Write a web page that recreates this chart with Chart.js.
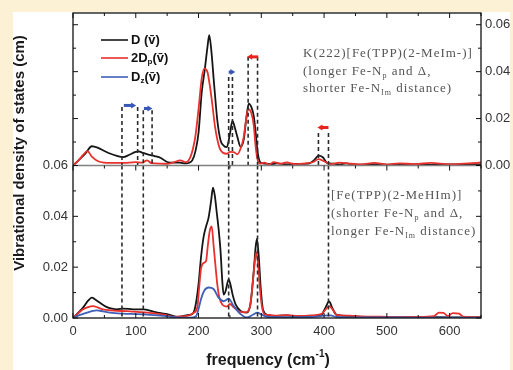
<!DOCTYPE html>
<html>
<head>
<meta charset="utf-8">
<script src="https://cdn.jsdelivr.net/npm/chart.js@4.4.0/dist/chart.umd.min.js"></script>
<style>
  html, body { margin: 0; padding: 0; background: #fcf1d4; overflow: hidden; }
  #wrap { position: relative; width: 513px; height: 370px; overflow: hidden; }
  #paper { position: absolute; left: 13px; top: 12px; width: 497px; height: 358px; background: #fff; }
  #chart { position: absolute; left: 0; top: 0; }
</style>
</head>
<body>
<div id="wrap">
  <div id="paper"></div>
  <canvas id="chart" width="530" height="370"></canvas>
</div>
<script>
// ---- data ----
// upper panel: K(222)[Fe(TPP)(2-MeIm-)]
const upDFreq = [0,10,20,30,40,50,60,70,80,90,100,105,110,120,130,140,150,160,170,180,185,190,195,200,205,210,214,217,220,225,230,235,240,245,250,254,258,262,267,272,276,280,284,288,291,294,298,305,315,325,340,360,375,385,391,398,405,415,425,435,450,470,500,530,560,590,620,650];
const upD     = [0,0.0025,0.0052,0.0082,0.0075,0.0062,0.005,0.0041,0.0036,0.0046,0.0058,0.006,0.0055,0.0046,0.004,0.0032,0.0015,0.0012,0.0012,0.0009,0.0012,0.0022,0.006,0.014,0.031,0.041,0.05,0.0556,0.05,0.034,0.019,0.0108,0.0085,0.0078,0.0135,0.019,0.016,0.012,0.008,0.011,0.02,0.0264,0.025,0.021,0.014,0.006,0.0015,0.0008,0.0006,0.0009,0.0005,0.0007,0.0008,0.0025,0.0042,0.0035,0.001,0.0008,0.0004,0.0009,0.0003,0.0005,0.0004,0.0006,0.0003,0.0005,0.0004,0.0005];
const upPFreq = [0,10,16,23,30,40,50,60,80,100,110,118,125,140,150,160,171,180,187,191,195,200,205,209,214,218,222,226,230,235,245,250,256,262,268,272,276,279,284,288,291,294,298,305,312,320,330,340,355,370,383,391,400,410,425,440,460,480,500,520,545,570,600,630,650];
const upP     = [0,0.0025,0.0045,0.0061,0.0038,0.0018,0.0012,0.0011,0.0011,0.0014,0.0012,0.0022,0.001,0.0008,0.0007,0.0013,0.0022,0.0014,0.0036,0.007,0.0125,0.024,0.037,0.0413,0.04,0.034,0.026,0.017,0.011,0.0066,0.005,0.0058,0.0057,0.0048,0.008,0.0121,0.02,0.024,0.0225,0.017,0.008,0.0025,0.0008,0.0012,0.0004,0.0014,0.0008,0.0013,0.0006,0.0009,0.0015,0.0027,0.0018,0.0006,0.0012,0.0008,0.0005,0.0011,0.0004,0.0009,0.0006,0.0011,0.0005,0.0009,0.0013];

// lower panel: [Fe(TPP)(2-MeHIm)]
const loDFreq = [0,8,16,24,30,36,43,54,62,70,80,96,112,128,140,150,166,176,185,192,196,200,204,208,212,216,220,223,226,229,232,235,238,240,243,248,251,254,259,267,277,283,288,291,293,296,299,303,310,320,340,360,380,395,402,408,413,420,440,460,490,520,550,580,620,650];
const loD     = [0,0.002,0.0041,0.0068,0.008,0.0072,0.006,0.0043,0.0037,0.0034,0.0037,0.0034,0.0034,0.0025,0.0019,0.0015,0.0004,0.0008,0.0012,0.0021,0.006,0.0133,0.024,0.0318,0.036,0.0395,0.046,0.0513,0.048,0.0415,0.035,0.0265,0.014,0.0092,0.0105,0.0152,0.013,0.0095,0.0054,0.0028,0.0021,0.006,0.0186,0.028,0.0311,0.024,0.012,0.003,0.0012,0.0008,0.001,0.0006,0.0008,0.001,0.004,0.0065,0.004,0.0012,0.0008,0.0004,0.0003,0.0003,0.0002,0.0003,0.0002,0.0003];
const loPFreq = [0,8,16,24,32,40,48,60,70,85,96,110,118,130,139,150,160,170,182,192,198,201,204,208,212,215,218,221,224,227,230,233,238,245,250,256,265,275,282,286,290,292,295,298,301,305,312,325,340,360,380,395,402,408,414,420,440,460,490,520,550,575,583,590,597,605,615,622,650];
const loP     = [0,0.0018,0.0034,0.0043,0.0047,0.0041,0.0034,0.003,0.0028,0.0027,0.0025,0.0023,0.0021,0.0018,0.0015,0.001,0.0004,0.0006,0.0008,0.002,0.0041,0.012,0.0195,0.0216,0.0225,0.029,0.0345,0.036,0.0285,0.0205,0.013,0.0082,0.0052,0.0045,0.0055,0.0042,0.0025,0.0022,0.0045,0.013,0.023,0.0258,0.021,0.011,0.0045,0.0015,0.0012,0.0009,0.0011,0.0008,0.001,0.0015,0.0032,0.0047,0.0032,0.0012,0.0009,0.0006,0.0005,0.0004,0.0004,0.0007,0.0021,0.002,0.0008,0.0019,0.0017,0.0005,0.0003];
const loZFreq = [0,10,22,30,38,48,59,80,102,123,144,166,187,196,200,204,209,216,224,232,240,248,256,267,277,286,294,300,310,340,380,400,410,420,460,520,580,650];
const loZ     = [0,0.0011,0.0021,0.0027,0.003,0.0026,0.0021,0.0017,0.0015,0.0012,0.0008,0.0002,0.0001,0.0007,0.0035,0.0075,0.0107,0.012,0.0114,0.008,0.0066,0.0076,0.0047,0.0015,0.0002,0.0012,0.0021,0.0014,0.0004,0.0003,0.0004,0.0009,0.001,0.0004,0.0002,0.0002,0.0001,0.0001];

// dashed guide lines (frequency, top value in upper panel)
const upDashFreq = [78,103,112,126,248,254,279,294,391,407];
const upDashTop  = [0.0249,0.0249,0.0236,0.0236,0.0377,0.0377,0.0463,0.0463,0.0138,0.0138];
const loDashFreq = [78,112,248,294,407];

// arrows over the guide pairs (upper panel)
const arrowFrom  = [81,113,248,295,407];
const arrowTo    = [99,125,257,279,391];
const arrowLevel = [0.0256,0.0243,0.0398,0.0463,0.0162];
const arrowColor = ['#3858b8','#3858b8','#3858b8','#e8231f','#e8231f'];

// ticks
const xTickValues = [0,50,100,150,200,250,300,350,400,450,500,550,600,650];
const xLabelValues = [0,100,200,300,400,500,600];
const yMinorValues = [0,0.01,0.02,0.03,0.04,0.05,0.06];
const yLabelValues = [0,0.02,0.04,0.06];

const BLACK = '#151515', RED = '#e8302c', BLUE = '#3f5fb8';

function pts(xs, ys) { return xs.map((x, i) => ({x: x, y: ys[i]})); }

const datasets = [];
upDashFreq.forEach((f, i) => {
  datasets.push({data: [{x: f, y: upDashTop[i]}, {x: f, y: 0}], yAxisID: 'yU',
    borderColor: '#2a2a2a', borderWidth: 1.6, borderDash: [4, 3], pointRadius: 0});
});
loDashFreq.forEach(f => {
  datasets.push({data: [{x: f, y: 0.06}, {x: f, y: 0}], yAxisID: 'yL',
    borderColor: '#2a2a2a', borderWidth: 1.6, borderDash: [4, 3], pointRadius: 0});
});
const curve = (xs, ys, color, axis) => ({data: pts(xs, ys), yAxisID: axis, borderColor: color,
  borderWidth: 1.8, pointRadius: 0, cubicInterpolationMode: 'monotone'});
datasets.push(curve(loZFreq, loZ, BLUE, 'yL'));
datasets.push(curve(loPFreq, loP, RED, 'yL'));
datasets.push(curve(loDFreq, loD, BLACK, 'yL'));
datasets.push(curve(upPFreq, upP, RED, 'yU'));
datasets.push(curve(upDFreq, upD, BLACK, 'yU'));

const tickFont = {family: 'Liberation Sans, Arial, sans-serif', size: 13};

function yAxis(pos, stack, max, labels) {
  return {
    type: 'linear', position: pos, stack: stack, stackWeight: 1, min: 0, max: max,
    grid: {display: false, drawTicks: false}, border: {display: false},
    afterBuildTicks: s => { s.ticks = yLabelValues.map(v => ({value: v})); },
    afterFit: s => { s.width = 30; },
    ticks: {display: labels, padding: pos === 'left' ? 5 : 4, color: '#333', font: tickFont,
      autoSkip: false, callback: v => v.toFixed(2)}
  };
}

// rich text: parts = [[text, 'sub'|''], ...]
function rich(ctx, x, y, parts, size, family, weight) {
  let cx = x;
  parts.forEach(p => {
    const sub = p[1] === 'sub';
    const sz = sub ? Math.round(size * 0.6) : size;
    ctx.font = (weight || '') + ' ' + sz + 'px ' + family;
    ctx.fillText(p[0], cx, sub ? y + size * 0.28 : y);
    cx += ctx.measureText(p[0]).width;
  });
  return cx;
}

const decor = {
  id: 'decor',
  afterDatasetsDraw(c) {
    const ctx = c.ctx, a = c.chartArea;
    const xs = c.scales.x, yL = c.scales.yL, yU = c.scales.yU;
    const mid = yL.getPixelForValue(0.06);
    ctx.save();
    // middle divider
    ctx.strokeStyle = '#808080'; ctx.lineWidth = 1.5;
    ctx.beginPath(); ctx.moveTo(a.left, mid); ctx.lineTo(a.right, mid); ctx.stroke();
    // frame
    ctx.strokeStyle = '#111'; ctx.lineWidth = 1.3;
    ctx.strokeRect(a.left, a.top, a.right - a.left, a.bottom - a.top);
    // inward tick marks
    ctx.lineWidth = 1;
    ctx.beginPath();
    xTickValues.forEach(v => {
      const px = xs.getPixelForValue(v), len = v % 100 === 0 ? 5 : 3;
      ctx.moveTo(px, a.bottom); ctx.lineTo(px, a.bottom - len);
      ctx.moveTo(px, a.top); ctx.lineTo(px, a.top + len);
      ctx.moveTo(px, mid); ctx.lineTo(px, mid + len);
    });
    [yL, yU].forEach(sc => {
      yMinorValues.forEach(v => {
        const py = sc.getPixelForValue(v);
        const len = Math.round(v * 100) % 2 === 0 ? 5 : 3;
        ctx.moveTo(a.left, py); ctx.lineTo(a.left + len, py);
        ctx.moveTo(a.right, py); ctx.lineTo(a.right - len, py);
      });
    });
    ctx.stroke();
    // arrows
    arrowFrom.forEach((f, i) => {
      const x1 = xs.getPixelForValue(f), x2 = xs.getPixelForValue(arrowTo[i]);
      const py = yU.getPixelForValue(arrowLevel[i]);
      const dir = x2 > x1 ? 1 : -1;
      ctx.strokeStyle = arrowColor[i]; ctx.fillStyle = arrowColor[i];
      ctx.lineWidth = 3;
      ctx.beginPath(); ctx.moveTo(x1, py); ctx.lineTo(x2 - dir * 3, py); ctx.stroke();
      ctx.beginPath(); ctx.moveTo(x2 + dir, py); ctx.lineTo(x2 - dir * 4, py - 3);
      ctx.lineTo(x2 - dir * 4, py + 3); ctx.closePath(); ctx.fill();
    });
    // legend
    const leg = [
      [BLACK, [['D (v\u0304)', '']]],
      [RED, [['2D', ''], ['p', 'sub'], ['(v\u0304)', '']]],
      [BLUE, [['D', ''], ['z', 'sub'], ['(v\u0304)', '']]]
    ];
    const legY = [40, 58, 77];
    leg.forEach((l, i) => {
      ctx.strokeStyle = l[0]; ctx.lineWidth = 1.6;
      ctx.beginPath(); ctx.moveTo(101, legY[i]); ctx.lineTo(128, legY[i]); ctx.stroke();
      ctx.fillStyle = '#111'; ctx.textBaseline = 'middle'; ctx.textAlign = 'left';
      rich(ctx, 131, legY[i], l[1], 13, 'Liberation Sans, Arial, sans-serif', 'bold');
    });
    // sample annotations
    ctx.fillStyle = '#555';
    ctx.letterSpacing = '1px';
    const serif = 'Liberation Serif, DejaVu Serif, serif';
    rich(ctx, 303, 54, [['K(222)[Fe(TPP)(2-MeIm-)]', '']], 13, serif);
    rich(ctx, 303, 72, [['(longer Fe-N', ''], ['p', 'sub'], [' and \u0394,', '']], 13, serif);
    rich(ctx, 303, 89, [['shorter Fe-N', ''], ['Im', 'sub'], [' distance)', '']], 13, serif);
    rich(ctx, 331, 196, [['[Fe(TPP)(2-MeHIm)]', '']], 13, serif);
    rich(ctx, 331, 214, [['(shorter Fe-N', ''], ['p', 'sub'], [' and \u0394,', '']], 13, serif);
    rich(ctx, 331, 232, [['longer Fe-N', ''], ['Im', 'sub'], [' distance)', '']], 13, serif);
    ctx.letterSpacing = '0px';
    // axis titles
    ctx.fillStyle = '#1a1a1a';
    ctx.font = 'bold 15px Liberation Sans, Arial, sans-serif';
    ctx.save();
    ctx.translate(20, 153); ctx.rotate(-Math.PI / 2);
    ctx.textAlign = 'center'; ctx.textBaseline = 'middle';
    ctx.fillText('Vibrational density of states (cm)', 0, 0);
    ctx.restore();
    ctx.textBaseline = 'alphabetic'; ctx.textAlign = 'left';
    ctx.font = 'bold 16px Liberation Sans, Arial, sans-serif';
    const w1 = ctx.measureText('frequency (cm').width;
    ctx.font = 'bold 10px Liberation Sans, Arial, sans-serif';
    const w2 = ctx.measureText('-1').width;
    ctx.font = 'bold 16px Liberation Sans, Arial, sans-serif';
    const w3 = ctx.measureText(')').width;
    let tx = 268 - (w1 + w2 + w3) / 2;
    ctx.fillText('frequency (cm', tx, 365); tx += w1;
    ctx.font = 'bold 10px Liberation Sans, Arial, sans-serif';
    ctx.fillText('-1', tx, 357); tx += w2;
    ctx.font = 'bold 16px Liberation Sans, Arial, sans-serif';
    ctx.fillText(')', tx, 365);
    ctx.restore();
  }
};

new Chart(document.getElementById('chart'), {
  type: 'line',
  data: {datasets: datasets},
  options: {
    responsive: false,
    animation: false,
    parsing: true,
    layout: {padding: {left: 43, right: 19, top: 13, bottom: 30}},
    plugins: {legend: {display: false}, tooltip: {enabled: false}},
    scales: {
      x: {
        type: 'linear', position: 'bottom', min: 0, max: 650,
        grid: {display: false, drawTicks: false}, border: {display: false},
        afterBuildTicks: s => { s.ticks = xLabelValues.map(v => ({value: v})); },
        afterFit: s => { s.height = 22; },
        ticks: {padding: 6, color: '#333', font: tickFont, maxRotation: 0, autoSkip: false,
          callback: v => String(v)}
      },
      yL: yAxis('left', 'vl', 0.06, true),
      yU: yAxis('left', 'vl', 0.065, false),
      yUR: yAxis('right', 'vr', 0.065, true),
      yLR: yAxis('right', 'vr', 0.06, false)
    }
  },
  plugins: [decor]
});
</script>
</body>
</html>
